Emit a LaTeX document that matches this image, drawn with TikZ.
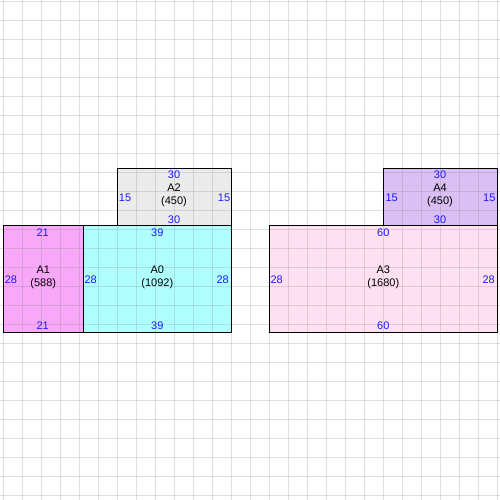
\documentclass[tikz,border=0pt]{standalone}
\usepackage{fontspec}
\setmainfont{Liberation Sans}
\definecolor{cA1}{HTML}{F8A8F8}
\definecolor{cA0}{HTML}{B0FFFF}
\definecolor{cA2}{HTML}{EBEBEB}
\definecolor{cA3}{HTML}{FFE0F0}
\definecolor{cA4}{HTML}{DABFF5}
\definecolor{dimblue}{HTML}{1A1AFF}
\begin{document}
\begin{tikzpicture}[x=1pt,y=-1pt,
  gridline/.style={draw=black!50,draw opacity=0.24,line width=1pt},
  room/.style={draw=black,line width=1pt},
  lbl/.style={inner sep=0pt,font=\fontsize{11}{12.5}\selectfont,align=center,text=black},
  dim/.style={inner sep=0pt,font=\fontsize{11}{12}\selectfont,text=dimblue}]
\useasboundingbox (0,0) rectangle (500,500);
\fill[white] (0,0) rectangle (500,500);
% fills
\fill[cA1] (3.5,225.5) rectangle (83.5,332.5);
\fill[cA0] (83.5,225.5) rectangle (231.5,332.5);
\fill[cA2] (117.5,168.5) rectangle (231.5,225.5);
\fill[cA3] (269.5,225.5) rectangle (497.5,332.5);
\fill[cA4] (383.5,168.5) rectangle (497.5,225.5);
% grid
\foreach \k in {0,...,26}{
  \pgfmathsetmacro{\gx}{3.5+19*\k}
  \pgfmathsetmacro{\gy}{1.5+19*\k}
  \draw[gridline] (\gx,0) -- (\gx,500);
  \draw[gridline] (0,\gy) -- (500,\gy);
}
% outlines
\draw[room] (3.5,225.5) rectangle (83.5,332.5);
\draw[room] (83.5,225.5) rectangle (231.5,332.5);
\draw[room] (117.5,168.5) rectangle (231.5,225.5);
\draw[room] (269.5,225.5) rectangle (497.5,332.5);
\draw[room] (383.5,168.5) rectangle (497.5,225.5);
% A1
\node[lbl] (a1) at (43.3,277.5) {A1\\(588)};
\node[dim] (a1t) at (42.7,232.7) {21};
\node[dim] (a1b) at (42.7,325.3) {21};
\node[dim] (a1l) at (11,279.3) {28};
% A0
\node[lbl] (a0) at (157.3,277.5) {A0\\(1092)};
\node[dim] (a0t) at (157.3,232.7) {39};
\node[dim] (a0b) at (157.3,325.3) {39};
\node[dim] (a0l) at (90.7,279.3) {28};
\node[dim] (a0r) at (222.7,279.3) {28};
% A2
\node[lbl] (a2) at (174,195.5) {A2\\(450)};
\node[dim] (a2t) at (174,175) {30};
\node[dim] (a2b) at (174,219.3) {30};
\node[dim] (a2l) at (125,197.3) {15};
\node[dim] (a2r) at (224,197.3) {15};
% A3
\node[lbl] (a3) at (383.3,277.5) {A3\\(1680)};
\node[dim] (a3t) at (383.3,232.7) {60};
\node[dim] (a3b) at (383.3,325.3) {60};
\node[dim] (a3l) at (276.7,279.3) {28};
\node[dim] (a3r) at (488.7,279.3) {28};
% A4
\node[lbl] (a4) at (440,195.5) {A4\\(450)};
\node[dim] (a4t) at (440,175) {30};
\node[dim] (a4b) at (440,219.3) {30};
\node[dim] (a4l) at (391.7,197.3) {15};
\node[dim] (a4r) at (489.3,197.3) {15};
\end{tikzpicture}
\end{document}
